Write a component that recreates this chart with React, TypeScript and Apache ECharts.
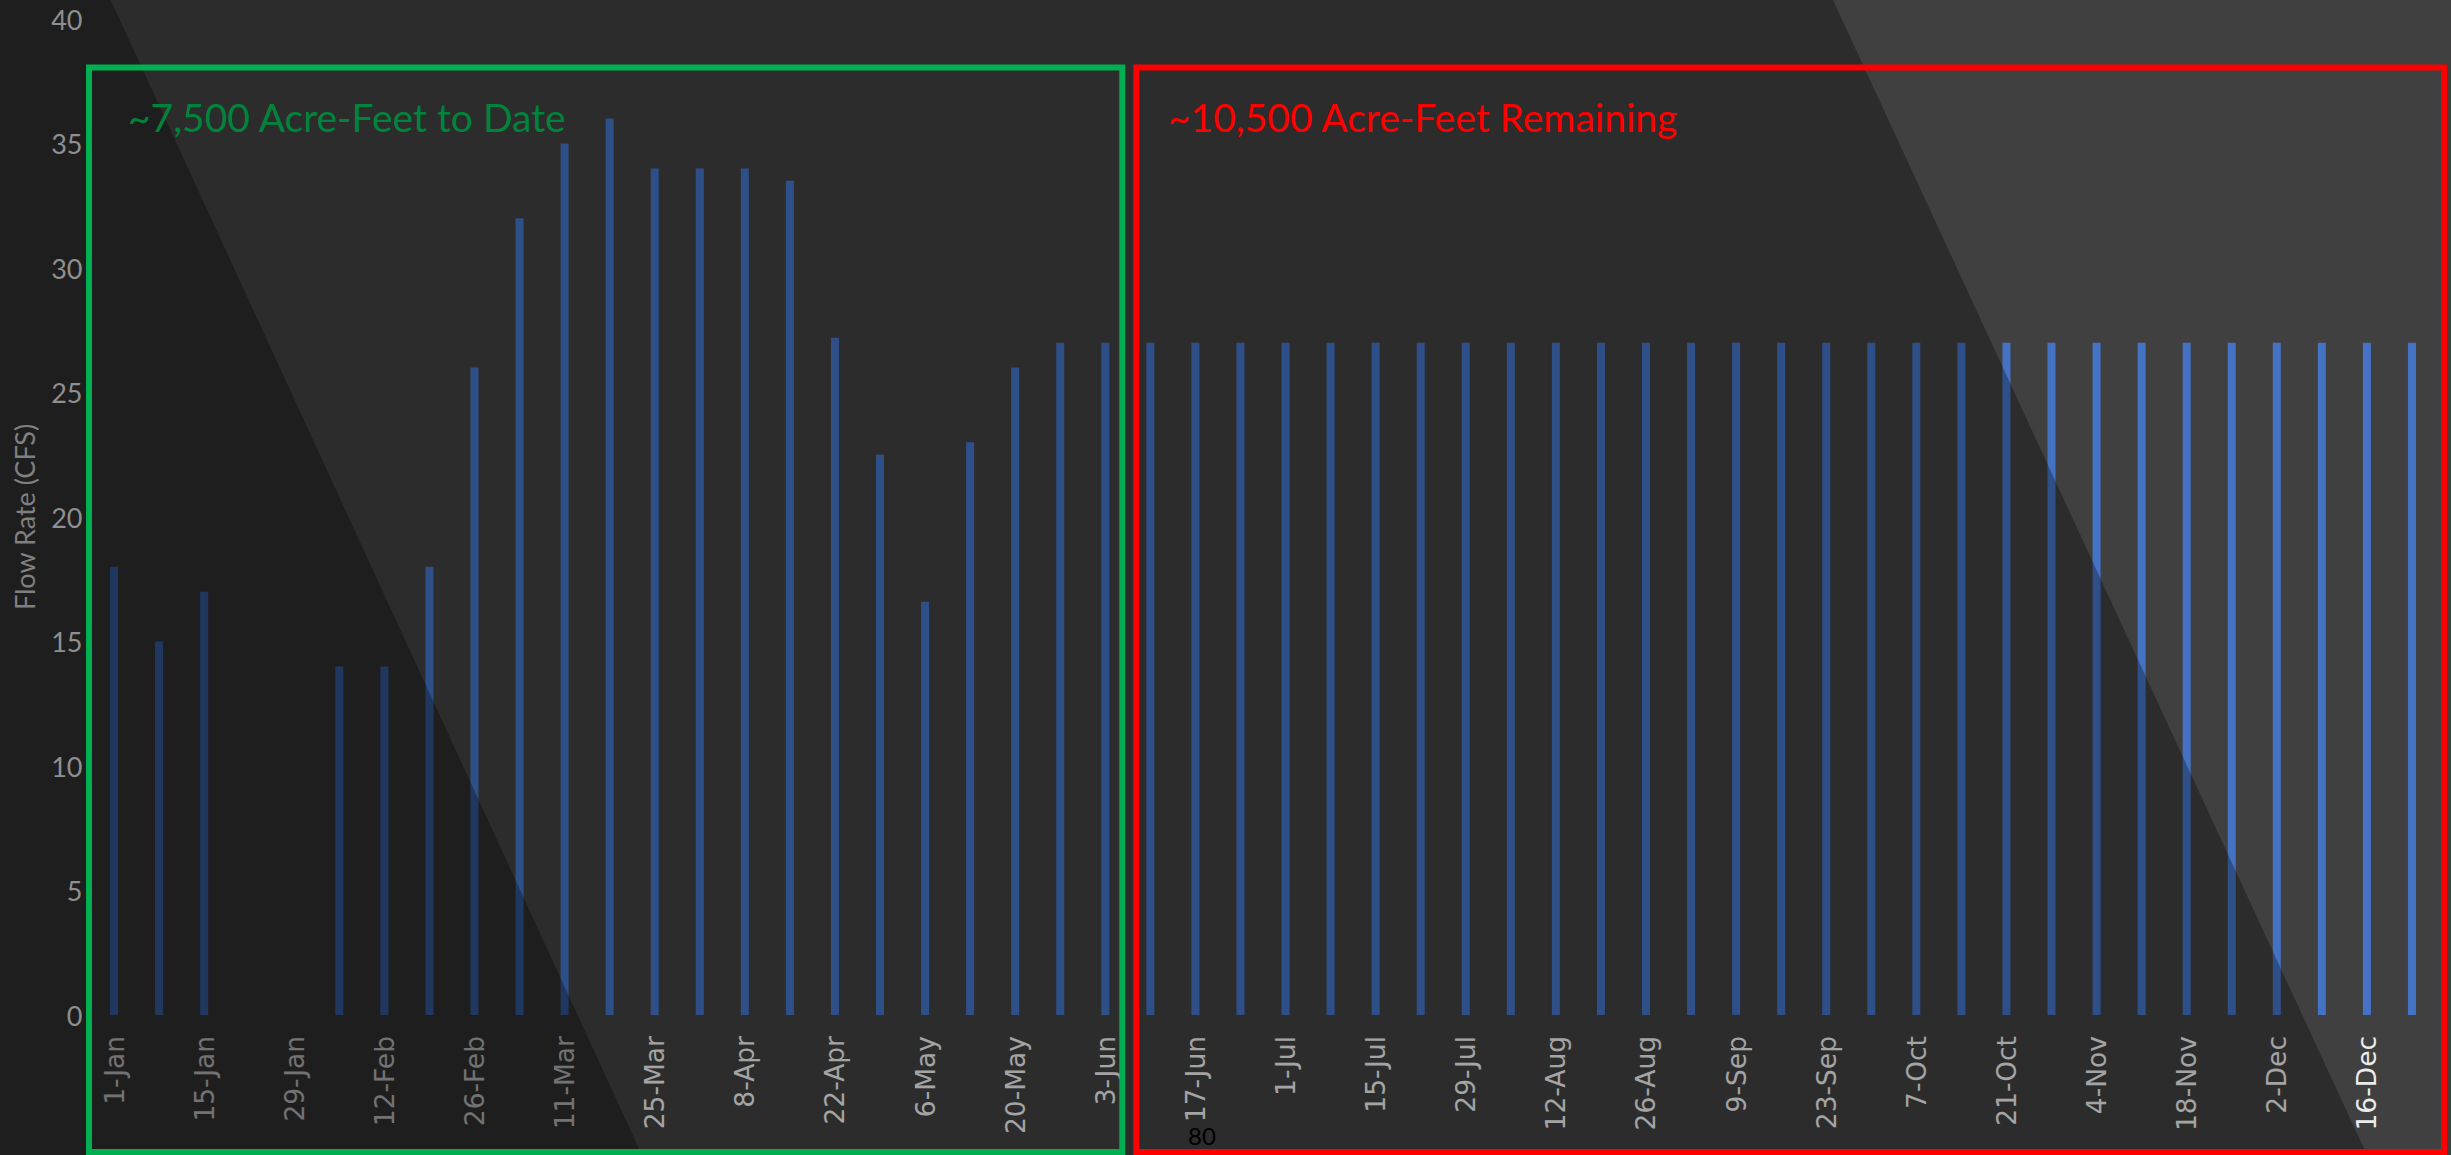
import React, { useEffect, useRef } from "react";
import * as echarts from "echarts";

const weeks = [
  "1-Jan", "8-Jan", "15-Jan", "22-Jan", "29-Jan", "5-Feb", "12-Feb", "19-Feb", "26-Feb", "4-Mar",
  "11-Mar", "18-Mar", "25-Mar", "1-Apr", "8-Apr", "15-Apr", "22-Apr", "29-Apr", "6-May", "13-May",
  "20-May", "27-May", "3-Jun", "10-Jun", "17-Jun", "24-Jun", "1-Jul", "8-Jul", "15-Jul", "22-Jul",
  "29-Jul", "5-Aug", "12-Aug", "19-Aug", "26-Aug", "2-Sep", "9-Sep", "16-Sep", "23-Sep", "30-Sep",
  "7-Oct", "14-Oct", "21-Oct", "28-Oct", "4-Nov", "11-Nov", "18-Nov", "25-Nov", "2-Dec", "9-Dec",
  "16-Dec", "23-Dec",
];

// Flow to date (1-Jan .. 3-Jun)
const toDateFlow = [18, 15, 17, 0, 0, 14, 14, 18, 26, 32, 35, 36, 34, 34, 34, 33.5, 27.2, 22.5, 16.6, 23, 26, 27, 27];
// Planned remaining flow (10-Jun .. 23-Dec)
const remainingFlow = [
  27, 27, 27, 27, 27, 27, 27, 27, 27, 27,
  27, 27, 27, 27, 27, 27, 27, 27, 27, 27,
  27, 27, 27, 27, 27, 27, 27, 27, 27,
];

const yMin = 0;
const yMax = 40;
const yStep = 5;
const yAxisTitle = "Flow Rate (CFS)";
const toDateNote = "~7,500 Acre-Feet to Date";
const remainingNote = "~10,500 Acre-Feet Remaining";
const pageNumber = "80";

export default function App() {
  const ref = useRef<HTMLDivElement>(null);
  useEffect(() => {
    if (!ref.current) return;
    const chart = echarts.init(ref.current, null, { renderer: "svg" });
    const flow = toDateFlow.concat(remainingFlow);
    chart.setOption({
      animation: false,
      backgroundColor: "#404040",
      grid: { left: 91.5, right: 16.5, top: 19, bottom: 140, containLabel: false },
      xAxis: {
        type: "category",
        data: weeks,
        z: 0,
        axisLine: { show: false },
        axisTick: { show: false },
        splitLine: { show: false },
        axisLabel: {
          interval: 1,
          rotate: 90,
          margin: 21,
          color: "#ebebeb",
          fontFamily: "'DejaVu Sans', Verdana, sans-serif",
          fontSize: 26.5,
        },
      },
      yAxis: {
        type: "value",
        min: yMin,
        max: yMax,
        interval: yStep,
        z: 30,
        name: yAxisTitle,
        nameLocation: "middle",
        nameGap: 54,
        nameTextStyle: { color: "#808080", fontFamily: "Lato", fontSize: 27 },
        axisLine: { show: false },
        axisTick: { show: false },
        splitLine: { show: false },
        axisLabel: { color: "#8f8f8f", fontFamily: "Lato", fontSize: 27, margin: 9 },
      },
      series: [
        {
          type: "bar",
          data: flow,
          barWidth: 8,
          itemStyle: { color: "#4472C4" },
          z: 2,
        },
      ],
      graphic: [
        {
          type: "polygon",
          silent: true,
          z: 10,
          shape: { points: [[0, 0], [1833, 0], [2367, 1155], [0, 1155]] },
          style: { fill: "rgba(0,0,0,0.3)" },
        },
        {
          type: "polygon",
          silent: true,
          z: 11,
          shape: { points: [[0, 0], [110.7, 0], [642, 1155], [0, 1155]] },
          style: { fill: "rgba(0,0,0,0.3)" },
        },
        {
          type: "rect",
          silent: true,
          z: 20,
          shape: { x: 89, y: 67.5, width: 1033.3, height: 1084.5 },
          style: { fill: "none", stroke: "#00B050", lineWidth: 6 },
        },
        {
          type: "rect",
          silent: true,
          z: 20,
          shape: { x: 1136.3, y: 67.5, width: 1307.7, height: 1084.5 },
          style: { fill: "none", stroke: "#FF0000", lineWidth: 6 },
        },
        {
          type: "text",
          z: 21,
          x: 128,
          y: 117,
          style: {
            text: toDateNote,
            fill: "#00843c",
            font: "39px Lato",
            textAlign: "left",
            verticalAlign: "middle",
          },
        },
        {
          type: "text",
          z: 21,
          x: 1168,
          y: 117,
          style: {
            text: remainingNote,
            fill: "#FF0000",
            font: "39px Lato",
            textAlign: "left",
            verticalAlign: "middle",
          },
        },
        {
          type: "text",
          z: 21,
          x: 1202,
          y: 1135,
          style: {
            text: pageNumber,
            fill: "#000000",
            font: "24px Lato",
            textAlign: "center",
            verticalAlign: "middle",
          },
        },
      ],
    });
    return () => chart.dispose();
  }, []);
  return (
    <div
      ref={ref}
      style={{ position: "absolute", left: 0, top: 0, width: 2451, height: 1155 }}
    />
  );
}
